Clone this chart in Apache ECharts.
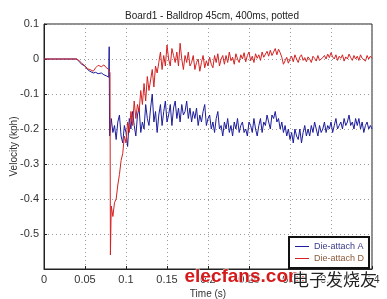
<!DOCTYPE html>
<html><head><meta charset="utf-8">
<script src="https://cdn.jsdelivr.net/npm/echarts@6/dist/echarts.min.js"></script>
<style>html,body{margin:0;padding:0;background:#fff}#c{width:387px;height:299px}</style>
</head><body><div id="c"></div>
<script>
// ---- data ----
const xTicks = [0, 0.05, 0.1, 0.15, 0.2, 0.25, 0.3, 0.35, 0.4];
const yTicks = [0.1, 0, -0.1, -0.2, -0.3, -0.4, -0.5, -0.6];
const seriesNames = ['Die-attach A', 'Die-attach D'];
// early segment (time, velocity) pairs
const preA = [[0,0],[0.04,0],[0.043,-0.008],[0.046,-0.015],[0.05,-0.02],[0.053,-0.03],[0.056,-0.035],[0.06,-0.04],[0.063,-0.038],[0.066,-0.042],[0.07,-0.04],[0.073,-0.045],[0.076,-0.048],[0.079,-0.052],[0.0795,0.035],[0.0800,-0.22],[0.081,-0.20]];
const preD = [[0,0],[0.04,0],[0.043,-0.005],[0.046,-0.012],[0.05,-0.02],[0.053,-0.028],[0.056,-0.03],[0.06,-0.035],[0.063,-0.025],[0.066,-0.018],[0.07,-0.022],[0.073,-0.017],[0.076,-0.025],[0.079,-0.03],[0.0805,-0.04],[0.081,-0.56]];
// sampled segment: starts at 0.082 s, one value every 0.002 s
const sampleStart = 0.082, sampleStep = 0.002;
const velA = [-0.17,-0.21,-0.19,-0.23,-0.18,-0.16,-0.22,-0.24,-0.19,-0.21,
-0.25,-0.17,-0.20,-0.15,-0.19,-0.22,-0.16,-0.14,-0.21,-0.18,
-0.20,-0.13,-0.17,-0.19,-0.14,-0.10,-0.18,-0.15,-0.21,-0.16,
-0.13,-0.19,-0.15,-0.12,-0.18,-0.16,-0.13,-0.19,-0.14,-0.12,
-0.17,-0.14,-0.18,-0.13,-0.16,-0.15,-0.12,-0.17,-0.14,-0.18,
-0.15,-0.17,-0.14,-0.19,-0.16,-0.18,-0.15,-0.13,-0.19,-0.17,
-0.16,-0.20,-0.18,-0.21,-0.17,-0.15,-0.20,-0.19,-0.22,-0.18,
-0.20,-0.17,-0.21,-0.19,-0.22,-0.18,-0.20,-0.17,-0.21,-0.19,
-0.18,-0.21,-0.20,-0.22,-0.18,-0.19,-0.21,-0.17,-0.20,-0.22,
-0.19,-0.17,-0.21,-0.18,-0.19,-0.16,-0.18,-0.20,-0.16,-0.17,
-0.15,-0.18,-0.17,-0.20,-0.18,-0.21,-0.19,-0.22,-0.20,-0.23,
-0.21,-0.24,-0.20,-0.22,-0.23,-0.20,-0.24,-0.21,-0.19,-0.22,
-0.20,-0.22,-0.19,-0.21,-0.18,-0.20,-0.22,-0.19,-0.21,-0.20,
-0.18,-0.21,-0.19,-0.20,-0.18,-0.21,-0.19,-0.17,-0.20,-0.19,
-0.18,-0.20,-0.17,-0.19,-0.18,-0.16,-0.19,-0.18,-0.20,-0.17,
-0.19,-0.17,-0.20,-0.18,-0.21,-0.19,-0.18,-0.20,-0.19,-0.20];
const velD = [-0.42,-0.45,-0.41,-0.40,-0.36,-0.33,-0.29,-0.27,-0.22,-0.24,
-0.18,-0.21,-0.15,-0.19,-0.12,-0.17,-0.13,-0.15,-0.09,-0.13,
-0.07,-0.12,-0.05,-0.09,-0.06,-0.03,-0.08,-0.02,-0.04,-0.01,
0.02,-0.03,0.01,-0.02,0.04,0.00,-0.02,0.03,0.01,-0.01,
0.02,-0.02,0.045,0.00,-0.03,0.01,-0.01,0.02,-0.02,-0.01,
0.01,-0.03,-0.01,0.00,-0.035,-0.01,0.01,-0.025,-0.005,-0.02,
0.005,-0.015,-0.025,0.01,-0.01,0.015,-0.02,0.00,0.01,-0.015,
0.01,-0.01,0.02,-0.005,0.005,-0.015,0.015,0.0,-0.01,0.012,
0.0,0.018,-0.008,0.01,0.02,-0.005,0.008,-0.01,0.015,0.002,
0.012,-0.004,0.02,0.005,0.0,0.022,0.008,0.025,0.01,0.02,
0.03,0.012,0.028,0.018,0.005,-0.015,-0.005,0.005,-0.012,0.0,
0.008,-0.008,0.012,0.0,-0.01,0.006,0.012,-0.004,0.004,-0.008,
0.006,0.0,-0.01,0.008,0.002,-0.006,0.01,-0.004,-0.008,0.004,
0.01,0.0,0.014,0.004,0.018,0.006,0.0,0.012,-0.004,0.008,
0.002,0.012,-0.006,0.006,0.0,0.014,0.004,-0.004,0.01,0.0,
0.008,-0.004,0.012,0.002,0.006,-0.006,0.01,0.0,0.008,0.002];
const colors = ['#1c1c9c', '#d42222'];

function build(pre, vals) {
  const out = pre.slice();
  vals.forEach((v, i) => out.push([+(sampleStart + i * sampleStep).toFixed(4), v]));
  return out;
}

const chart = echarts.init(document.getElementById('c'));
const gridLine = {show: true, lineStyle: {color: '#9a9a9a', type: [1, 3], width: 1}};
const lab = {fontFamily: 'Liberation Sans', fontSize: 11, color: '#333'};
chart.setOption({
  animation: false,
  title: {text: 'Board1 - Balldrop 45cm, 400ms, potted', left: 207, top: 6, textAlign: 'center',
    textStyle: {fontFamily: 'Liberation Sans', fontSize: 10, fontWeight: 'normal', color: '#222'}},
  grid: {left: 44, right: 15, top: 24, bottom: 30, show: true, borderColor: '#222', borderWidth: 1,
    containLabel: false, outerBoundsMode: 'none'},
  xAxis: {type: 'value', min: 0, max: 0.4, interval: 0.05, name: 'Time (s)', nameLocation: 'middle', nameGap: 20,
    nameMoveOverlap: false,
    nameTextStyle: {fontFamily: 'Liberation Sans', fontSize: 10, color: '#333'},
    axisLine: {show: true, onZero: false, lineStyle: {color: '#222'}},
    axisTick: {show: true, inside: true, length: 3, lineStyle: {color: '#222'}},
    axisLabel: Object.assign({margin: 5, formatter: v => String(+v.toFixed(2))}, lab),
    splitLine: gridLine},
  yAxis: {type: 'value', min: -0.6, max: 0.1, interval: 0.1, name: 'Velocity (kph)', nameLocation: 'middle', nameGap: 25,
    nameMoveOverlap: false,
    nameTextStyle: {fontFamily: 'Liberation Sans', fontSize: 10, color: '#333'},
    axisLine: {show: true, onZero: false, lineStyle: {color: '#222'}},
    axisTick: {show: true, inside: true, length: 3, lineStyle: {color: '#222'}},
    axisLabel: Object.assign({margin: 5, formatter: v => Math.abs(v + 0.6) < 1e-9 ? '' : String(+v.toFixed(1))}, lab),
    splitLine: gridLine},
  legend: {orient: 'vertical', left: 289, top: 237, padding: [5, 5, 5, 6], itemGap: 3,
    backgroundColor: '#fff', borderColor: '#111', borderWidth: 2, borderRadius: 0,
    itemWidth: 14, itemHeight: 1, icon: 'rect',
    textStyle: {fontFamily: 'Liberation Sans', fontSize: 9},
    data: [{name: seriesNames[0], textStyle: {color: '#3a3a8a'}}, {name: seriesNames[1], textStyle: {color: '#8a5a3a'}}]},
  series: [
    {name: seriesNames[0], type: 'line', data: build(preA, velA), showSymbol: false, symbol: 'none',
      lineStyle: {color: colors[0], width: 1}, itemStyle: {color: colors[0]}},
    {name: seriesNames[1], type: 'line', data: build(preD, velD), showSymbol: false, symbol: 'none',
      lineStyle: {color: colors[1], width: 1}, itemStyle: {color: colors[1]}}
  ],
  graphic: [
    {type: 'text', left: 184, top: 267, z: 100, style: {text: 'elecfans.com', fill: '#d41a1a',
      font: 'bold 19px "Liberation Sans"', stroke: '#fff', lineWidth: 1}},
    {type: 'text', left: 291, top: 270, z: 100, style: {text: '电子发烧友', fill: '#222',
      font: '17px "Noto Sans CJK SC"', stroke: '#fff', lineWidth: 2}}
  ]
});
</script></body></html>
